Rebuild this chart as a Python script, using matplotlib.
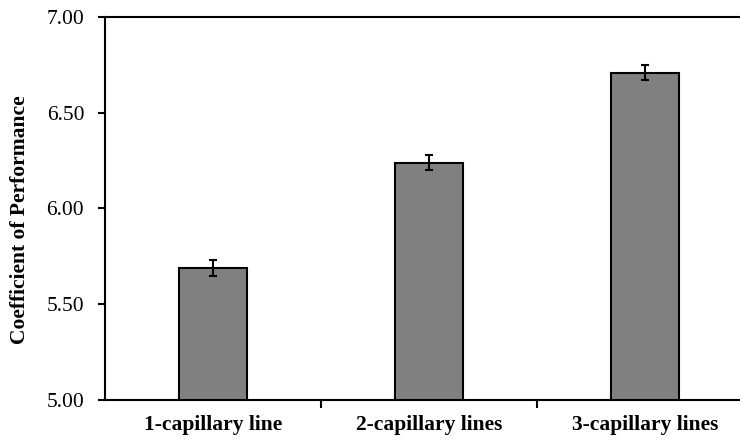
import numpy as np
import matplotlib
matplotlib.use("Agg")
import matplotlib.pyplot as plt

categories = ["1-capillary line", "2-capillary lines", "3-capillary lines"]
cop_values = [5.69, 6.24, 6.71]
cop_errors = [0.04, 0.04, 0.04]
y_ticks = [5.00, 5.50, 6.00, 6.50, 7.00]

plt.rcParams['font.family'] = ['Liberation Serif', 'DejaVu Serif']

fig = plt.figure(figsize=(7.4, 4.4), dpi=100)
# plot area runs past the right edge of the picture, like the cropped original
ax = fig.add_axes([105 / 740, 40 / 440, 648 / 740, 383 / 440])

x = np.arange(len(categories))
ax.bar(x, cop_values, width=0.315, color="#808080", edgecolor="black",
       linewidth=1.5, zorder=2)
ax.errorbar(x, cop_values, yerr=cop_errors, fmt="none", ecolor="black",
            elinewidth=1.5, capsize=3, capthick=1.5, zorder=3)

ax.set_xlim(-0.5, 2.5)
ax.set_ylim(5.0, 7.0)
ax.set_yticks(y_ticks)
ax.set_yticklabels([f"{v:.2f}" for v in y_ticks], fontsize=15.5)

ax.set_xticks(x)
ax.set_xticklabels(categories, fontsize=15.5, fontweight="bold")
ax.tick_params(axis="x", which="major", length=0, pad=11)
ax.set_xticks([0.5, 1.5], minor=True)
ax.tick_params(axis="x", which="minor", length=6, width=1.5, direction="out")
ax.tick_params(axis="y", length=5, width=1.5, direction="out", pad=10)

for side in ["left", "bottom", "top"]:
    ax.spines[side].set_linewidth(1.5)
ax.spines["right"].set_visible(False)

ax.set_ylabel("Coefficient of Performance", fontsize=15.5, fontweight="bold")
ax.yaxis.set_label_coords(-0.116, 0.47)

fig.savefig("out.png", dpi=100)
